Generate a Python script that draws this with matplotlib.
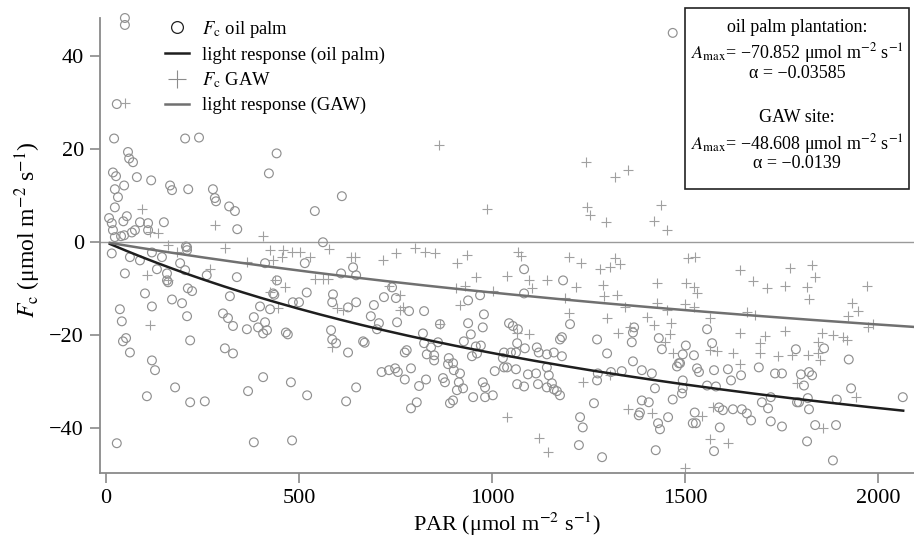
import numpy as np
import matplotlib
matplotlib.use("Agg")
import matplotlib.pyplot as plt
from matplotlib.lines import Line2D
from matplotlib.patches import Rectangle

plt.rcParams['font.family'] = ['Liberation Serif', 'DejaVu Serif']
plt.rcParams['mathtext.fontset'] = 'stix'
plt.rcParams['axes.unicode_minus'] = True

# ---------------- data ----------------
oil_palm = [
    (49, 48.2), (49, 46.7), (28, 29.7), (21, 22.3), (205, 22.3), (241, 22.5), (57, 19.4), (60, 18), (70, 17.2),
    (442, 19.1), (18, 15), (26, 14.2), (80, 14), (117, 13.3), (422, 14.8), (47, 12.2), (23, 11.4), (166, 12.2),
    (171, 11.2), (213, 11.4), (277, 11.4), (282, 9.5), (285, 8.8), (31, 9.7), (23, 7.5), (319, 7.7), (334, 6.7),
    (541, 6.7), (8, 5.2), (54, 5.6), (15, 4.1), (45, 4.5), (88, 4.3), (109, 4.1), (150, 4.3), (109, 2.6), (75, 2.6),
    (67, 2.1), (18, 2.6), (340, 2.8), (39, 1.3), (23, 1.1), (47, 1.5), (207, -0.9),
    (15, -2.4), (49, -6.7), (88, -3.9), (62, -3.2), (119, -2.2), (145, -3.2), (132, -5.8), (158, -6.7), (158, -8.2),
    (161, -8.6), (210, -1.1), (210, -1.7), (192, -4.5), (205, -6.0), (261, -7.1), (339, -7.5), (212, -9.9),
    (223, -10.5), (101, -11), (119, -13.8), (171, -12.3), (197, -13.1), (210, -15.9), (36, -14.4), (41, -17),
    (44, -21.3), (52, -20.6), (62, -23.7), (218, -21.1), (321, -11.6), (303, -15.3), (316, -16.3), (329, -18),
    (365, -18.7), (383, -16.1), (394, -18.3), (399, -13.8), (407, -19.6), (412, -17.2), (417, -18.9), (425, -14.4),
    (433, -11), (436, -11.3), (443, -8.2), (412, -4.5), (308, -22.8), (329, -23.9), (119, -25.4), (466, -19.4),
    (471, -19.8), (484, -12.9), (500, -12.9), (520, -10.8), (515, -4.5),
    (127, -27.5), (106, -33.1), (179, -31.2), (218, -34.4), (256, -34.2), (368, -32), (407, -29), (479, -30.1),
    (521, -32.9), (28, -43.2), (383, -43), (482, -42.6),
    (611, 9.9), (562, 0), (609, -6.7), (640, -5.4), (648, -7.1), (588, -11.2), (586, -12.9), (627, -14), (648, -12.9),
    (694, -13.5), (720, -11.8), (741, -9.7), (751, -12.0), (686, -15.9), (707, -17.4), (702, -18.7), (754, -17.2),
    (785, -14.8), (824, -14.8), (865, -17.6), (583, -18.9), (586, -20.9), (596, -21.7), (627, -23.7), (666, -21.3),
    (670, -21.6), (774, -23.7), (779, -23.2), (821, -19.6), (824, -21.7), (842, -22.6), (831, -24.1), (850, -24.3),
    (850, -25.4), (860, -21.5), (888, -24.9), (886, -26.2), (899, -26), (938, -12.5), (969, -11.4), (979, -15.5),
    (938, -17.4), (945, -19.8), (927, -21.3), (958, -22.4), (971, -22.2), (948, -24.5), (961, -23.9), (976, -18.3),
    (1083, -5.8), (1083, -11), (1184, -8.2), (1181, -20.4), (1176, -20.9), (1202, -17.6), (1044, -17.4), (1054, -18),
    (1067, -18.7), (1065, -21.7), (1031, -23.7), (1049, -23.7), (1062, -23.7), (1085, -22.8), (1116, -22.6),
    (1121, -23.7), (1142, -24.1), (1160, -23.7), (1181, -24.5), (1272, -20.9), (1298, -23.9), (1028, -24.9),
    (714, -27.9), (733, -27.5), (749, -27.1), (756, -27.9), (790, -27.1), (774, -29.5), (829, -29.5), (811, -30.9),
    (648, -31.2), (622, -34.2), (805, -34.4), (790, -35.7), (873, -29.2), (878, -30.1), (901, -27.5), (917, -28.2),
    (914, -30.1), (925, -31.4), (909, -31.8), (899, -34), (891, -34.6), (951, -33.3), (976, -30.1), (982, -31.2),
    (982, -33.3), (1002, -32.9), (1007, -27.7), (1031, -26.9), (1039, -26.9), (1062, -27.3), (1065, -30.5),
    (1083, -31), (1093, -28.4), (1114, -28.2), (1119, -30.5), (1142, -31.2), (1142, -26.9), (1147, -28.6),
    (1155, -30.3), (1160, -31.6), (1168, -32), (1176, -32.9), (1264, -34.6), (1228, -37.6), (1272, -29.7),
    (1274, -28.2), (1308, -27.9),
    (1235, -39.8), (1225, -43.6), (1285, -46.2), (1468, 45),
    (1365, -25.6), (1362, -21.5), (1365, -19.4), (1368, -18.3), (1432, -20.6), (1440, -23), (1557, -18.7),
    (1570, -21.7), (1502, -22.2), (1494, -24.1), (1523, -24.3), (1484, -26), (1787, -23), (1860, -22.8),
    (1924, -25.2), (1691, -26.9),
    (1336, -27.7), (1388, -27.5), (1414, -28.2), (1422, -31.4), (1388, -34), (1406, -34.4), (1383, -36.6),
    (1380, -37.2), (1468, -33.8), (1479, -26.7), (1487, -26), (1494, -29.7), (1494, -31.4), (1492, -32.5),
    (1525, -36.6), (1531, -27.1), (1536, -27.9), (1557, -30.8), (1580, -31), (1575, -27.5), (1588, -35.5),
    (1598, -36.1), (1611, -27.3), (1619, -29.7), (1645, -28.6), (1624, -35.9), (1647, -35.9), (1660, -36.8),
    (1722, -33.3), (1699, -34.4), (1715, -35.7), (1733, -28.2), (1751, -28.2), (1800, -28.4), (1821, -27.9),
    (1829, -28.6), (1808, -30.8), (1790, -34.4), (1795, -34.4), (1818, -33.5), (1821, -35.9), (1893, -33.8),
    (1930, -31.4), (2064, -33.3),
    (1430, -38.9), (1435, -40.2), (1424, -44.7), (1456, -37.6), (1520, -38.9), (1528, -38.9), (1575, -44.9),
    (1590, -39.8), (1671, -38.3), (1722, -38.5), (1751, -39.6), (1816, -42.8), (1837, -39.3), (1891, -39.3),
    (1883, -46.9),
]
gaw = [
    (49, 30), (93, 7.1), (282, 3.7), (114, 2.2), (135, 1.9), (407, 1.3), (161, -0.6), (184, -2.2), (308, -1.3),
    (425, -1.7), (458, -1.7), (482, -2.2), (502, -2.2), (433, -3.9), (456, -3.2), (365, -4.3), (269, -5.8),
    (106, -7.1), (161, -8.2), (438, -8.2), (464, -9.7), (425, -10.8), (541, -8.0), (446, -14.2), (114, -17.8),
    (528, -3.2),
    (862, 20.9), (1243, 17.2), (1318, 14), (1352, 15.5), (986, 7.1), (1245, 7.5), (1253, 5.8), (1295, 4.3),
    (1437, 8), (1419, 4.5), (1453, 2.6),
    (578, -1.5), (634, -3.2), (645, -3.2), (718, -3.9), (751, -2.4), (800, -1.3), (826, -2.2), (852, -2.4),
    (909, -4.5), (935, -2.8), (958, -7.5), (1039, -7.3), (1067, -2.2), (1075, -3), (1096, -8.2), (1103, -9.9),
    (1142, -8.2), (1199, -3.2), (1230, -4.5), (1279, -5.8), (1305, -5.4), (1318, -3.4), (1331, -4.7), (1287, -9.2),
    (1290, -11.6), (1323, -11.4), (1217, -9.7), (1189, -12), (1199, -15.3), (1298, -16.3), (1326, -19.6),
    (562, -8), (575, -8), (733, -9.5), (761, -11.4), (906, -9.9), (930, -9.5), (1002, -10.5), (917, -13.5),
    (598, -14.2), (614, -14.6), (761, -14.6), (769, -14), (1096, -19.8), (585, -22.6), (1065, -19.6), (865, -17.5),
    (1039, -37.6), (1121, -42.1), (1145, -45), (1235, -30.1), (1305, -28.6),
    (1507, -3.4), (1525, -3.2), (1642, -6), (1676, -8.4), (1712, -9.9), (1759, -9.5), (1772, -5.6), (1829, -4.9),
    (1837, -7.5), (1816, -9.7), (1821, -12.3), (1971, -9.5), (1427, -8.8), (1502, -8.8), (1523, -9.7), (1531, -11),
    (1344, -14), (1427, -13.1), (1453, -14.6), (1499, -13.3), (1523, -14), (1660, -15), (1681, -15.7),
    (1932, -13.1), (1948, -14.8), (1922, -15.9), (1974, -18.3), (1987, -17.6), (1401, -16.1), (1419, -17.8),
    (1463, -17.4), (1461, -19.8), (1565, -16.3), (1357, -18.3), (1448, -21.5), (1468, -23.7), (1565, -23.2),
    (1583, -23.4), (1624, -23.7), (1642, -19.6), (1707, -20.2), (1694, -21.7), (1694, -23.9), (1740, -24.5),
    (1759, -19.1), (1777, -24.3), (1818, -24.3), (1844, -23.7), (1849, -25.4), (1854, -19.6), (1844, -21.5),
    (1883, -20), (1909, -20.4), (1919, -21.1), (1642, -26.2),
    (1352, -35.9), (1414, -36.6), (1572, -35.5), (1943, -33.3), (1790, -30.3), (1544, -37.4), (1565, -42.3),
    (1611, -43.2), (1500, -48.6), (1857, -40),
]
op_par = [p for p, _ in oil_palm]
op_fc = [f for _, f in oil_palm]
gaw_par = [p for p, _ in gaw]
gaw_fc = [f for _, f in gaw]

# light-response (rectangular hyperbola) parameters shown in the chart
amax_op, alpha_op = -70.852, -0.03585
amax_gaw, alpha_gaw = -48.608, -0.0139
curve_op_range = (10, 2065)
curve_gaw_range = (10, 2100)

xticks = [0, 500, 1000, 1500, 2000]
yticks = [-40, -20, 0, 20, 40]


def light_response(par, amax, alpha):
    par = np.asarray(par, dtype=float)
    return alpha * par * amax / (alpha * par + amax)


# ---------------- figure ----------------
W, H = 914, 544
fig = plt.figure(figsize=(W / 100, H / 100), dpi=100)
ax_l, ax_r, ax_t, ax_b = 100, 914, 18, 473
ax = fig.add_axes([ax_l / W, 1 - ax_b / H, (ax_r - ax_l) / W, (ax_b - ax_t) / H])

ax.set_xlim(-15.5, 2093)
ax.set_ylim(-49.6, 48.2)

spine_c = '#8a8a8a'
ax.axhline(0, color='#9a9a9a', lw=1.0, zorder=1)

ax.scatter(op_par, op_fc, s=40, facecolors='none', edgecolors='#909090', linewidths=0.85,
           zorder=2, clip_on=False)
ax.scatter(gaw_par, gaw_fc, s=55, marker='+', color='#a0a0a0', linewidths=0.8, zorder=2, clip_on=False)

px = np.linspace(*curve_op_range, 300)
ax.plot(px, light_response(px, amax_op, alpha_op), color='#1e1e1e', lw=1.8, zorder=3)
pg = np.linspace(*curve_gaw_range, 300)
ax.plot(pg, light_response(pg, amax_gaw, alpha_gaw), color='#707070', lw=1.8, zorder=3)

for s in ['top', 'right']:
    ax.spines[s].set_visible(False)
for s in ['left', 'bottom']:
    ax.spines[s].set_color(spine_c)
    ax.spines[s].set_linewidth(1.3)

ax.set_xticks(xticks)
ax.set_yticks(yticks)
ax.tick_params(direction='out', length=7.5, width=1.2, color=spine_c, labelsize=16, pad=4)

ax.set_xlabel(r'PAR (μmol m$^{-2}$ s$^{-1}$)', fontsize=16, labelpad=2)
ax.set_ylabel(r'$F_\mathrm{c}$ (μmol m$^{-2}$ s$^{-1}$)', fontsize=17)
ax.yaxis.set_label_coords(-0.07, 0.534)

handles = [
    Line2D([], [], ls='none', marker='o', mfc='none', mec='#222222', ms=8.5, mew=0.9),
    Line2D([], [], color='#1e1e1e', lw=1.8),
    Line2D([], [], ls='none', marker='+', color='#8c8c8c', ms=13, mew=0.8),
    Line2D([], [], color='#707070', lw=1.8),
]
labels = [r'$F_\mathrm{c}$ oil palm', 'light response (oil palm)', r'$F_\mathrm{c}$ GAW', 'light response (GAW)']
leg = fig.legend(handles, labels, loc='upper left', bbox_to_anchor=(165 / W, 1 - 19 / H),
                 frameon=False, fontsize=13.4, handlelength=1.3, handletextpad=0.7,
                 labelspacing=0.36, borderaxespad=0, borderpad=0)

# parameter box
bx0, by0, bx1, by1 = 685, 8, 909, 189
fig.patches.append(Rectangle((bx0 / W, 1 - by1 / H), (bx1 - bx0) / W, (by1 - by0) / H,
                             transform=fig.transFigure, fill=False, edgecolor='#222222', lw=1.2))
cx = (bx0 + bx1) / 2 / W
box_lines = [
    (27, 'oil palm plantation:'),
    (53, r'$A_\mathrm{max}$= −70.852 μmol m$^{-2}$ s$^{-1}$'),
    (74, 'α = −0.03585'),
    (118, 'GAW site:'),
    (144, r'$A_\mathrm{max}$= −48.608 μmol m$^{-2}$ s$^{-1}$'),
    (164, 'α = −0.0139'),
]
for yy, txt in box_lines:
    fig.text(cx, 1 - yy / H, txt, ha='center', va='center', fontsize=13)

fig.savefig('out.png', dpi=100)
